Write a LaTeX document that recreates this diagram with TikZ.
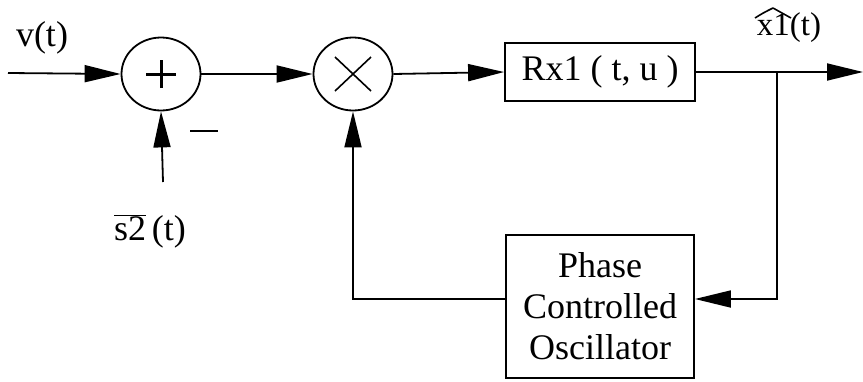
\documentclass[tikz,border=0pt]{standalone}
\usepackage{fontspec}
\setmainfont{Liberation Serif}
\usetikzlibrary{arrows.meta,shapes.geometric}
\tikzset{
  wire/.style={line width=1.8pt},
  arr/.style={wire,-{Triangle[length=36pt,width=17pt]}},
  junction/.style={ellipse,draw,line width=1.8pt,minimum width=79pt,minimum height=73pt,inner sep=0pt},
  block/.style={draw,line width=1.8pt,inner sep=0pt,align=center},
  lbl/.style={font=\fontsize{36}{41}\selectfont,inner sep=0pt}
}
\begin{document}
\begin{tikzpicture}[x=1pt,y=-1pt]
\useasboundingbox (0,0) rectangle (863,381);
\coordinate (in) at (8,73);
\node[junction] (add) at (161,74) {};
\node[junction] (mul) at (353,74) {};
\node[block,minimum width=190pt,minimum height=58pt,lbl] (rx) at (600,72) {Rx1 ( t, u )};
\node[block,minimum width=188pt,minimum height=143pt,lbl] (pco) at (600,306.5) {Phase\\Controlled\\Oscillator};
\coordinate (out) at (863,72);
\coordinate (br) at (777,72);
\coordinate (fb) at (777,299);
\coordinate (s2) at (163,182);
% plus sign
\draw[line width=3pt] ([xshift=-15pt]add.center) -- ([xshift=15pt]add.center);
\draw[line width=3pt] ([yshift=-14pt]add.center) -- ([yshift=14pt]add.center);
% times sign
\draw[line width=1.6pt] ([shift={(-18pt,-17pt)}]mul.center) -- ([shift={(18pt,17pt)}]mul.center);
\draw[line width=1.6pt] ([shift={(-18pt,17pt)}]mul.center) -- ([shift={(18pt,-17pt)}]mul.center);
% connectors
\draw[arr] (in) -- (add.west);
\draw[arr] (add.east) -- (mul.west);
\draw[arr] (mul.east) -- (rx.west);
\draw[arr] (rx.east) -- (out);
\draw[arr] (s2) -- (add.south);
\draw[arr] (br) -- (fb) -- (fb -| pco.east);
\draw[arr] (fb -| pco.west) -| (mul.south);
% labels
\node[lbl] (vt) at (42,38) {v(t)};
\draw[line width=2.6pt] (190,131) -- (218,131);
\node[lbl] (s2t) at (150,231) {$\overline{\hbox{s2}}$\,(t)};
\node[lbl,font=\fontsize{33}{38}\selectfont] (xhat) at (789,28) {x1(t)};
\draw[line width=1.6pt,line join=round] (755,18) .. controls (763,13) .. (773,8) .. controls (782,13) .. (791,18);
\end{tikzpicture}
\end{document}
